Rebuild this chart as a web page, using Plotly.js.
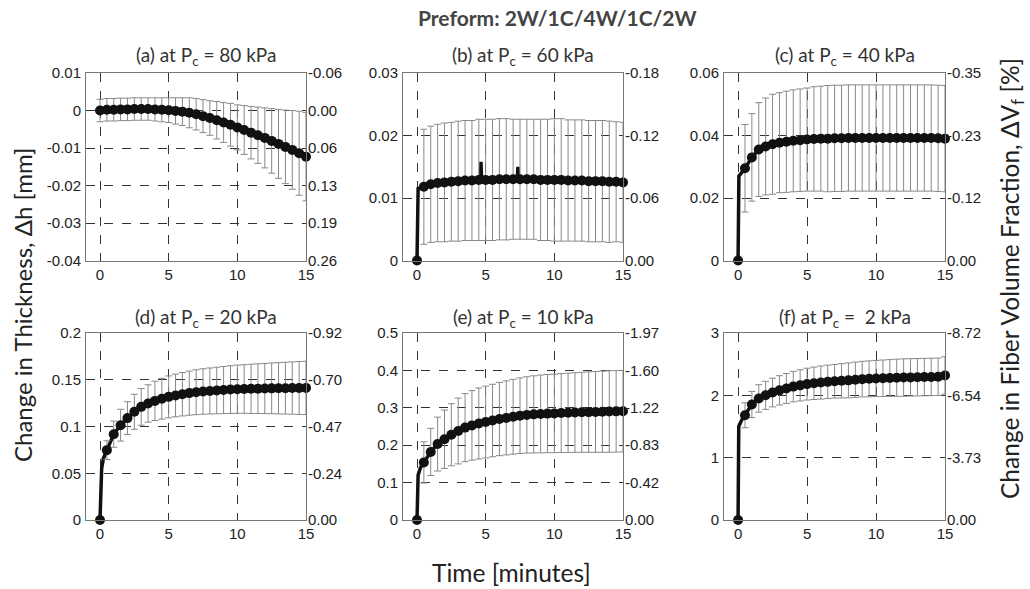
<!DOCTYPE html>
<html><head><meta charset="utf-8">
<script src="https://cdn.plot.ly/plotly-3.0.1.min.js"></script>
<style>html,body{margin:0;padding:0;background:#fff}#chart{width:1030px;height:589px}</style>
</head><body><div id="chart"></div>
<script>
// ---- Data ----
const times = [0,0.5,1,1.5,2,2.5,3,3.5,4,4.5,5,5.5,6,6.5,7,7.5,8,8.5,9,9.5,10,10.5,11,11.5,12,12.5,13,13.5,14,14.5,15];

const panelTitles = ['(a) at P<sub>c</sub> = 80 kPa','(b) at P<sub>c</sub> = 60 kPa','(c) at P<sub>c</sub> = 40 kPa',
                     '(d) at P<sub>c</sub> = 20 kPa','(e) at P<sub>c</sub> = 10 kPa','(f) at P<sub>c</sub> =  2 kPa'];

// (a) 80 kPa
const aY   = [0,0.0002,0.0002,0.0003,0.0003,0.0004,0.0004,0.0004,0.0003,0.0002,0.0001,-0.0001,-0.0003,-0.0006,-0.001,-0.0015,-0.002,-0.0026,-0.0032,-0.0038,-0.0045,-0.0052,-0.0059,-0.0066,-0.0073,-0.0081,-0.0089,-0.0097,-0.0105,-0.0114,-0.0123];
const aErr = [0.003,0.003,0.003,0.003,0.003,0.003,0.003,0.003,0.0031,0.0032,0.0033,0.0035,0.0037,0.004,0.0042,0.0044,0.0046,0.005,0.0053,0.0057,0.006,0.0065,0.007,0.0075,0.008,0.0086,0.0092,0.0098,0.0105,0.0112,0.0118];
const aExtraT = [], aExtraY = [];

// (b) 60 kPa
const bY   = [0,0.0118,0.0122,0.0124,0.0125,0.0126,0.0127,0.0128,0.0128,0.0129,0.0129,0.0129,0.013,0.013,0.013,0.013,0.013,0.013,0.0129,0.0129,0.0129,0.0129,0.0128,0.0128,0.0128,0.0127,0.0127,0.0127,0.0126,0.0126,0.0125];
const bErr = [0,0.0092,0.0093,0.0094,0.0095,0.0095,0.0096,0.0096,0.0096,0.0097,0.0097,0.0097,0.0097,0.0097,0.0096,0.0096,0.0096,0.0096,0.0097,0.0097,0.0098,0.0098,0.0097,0.0097,0.0097,0.0097,0.0097,0.0097,0.0097,0.0096,0.0096];
const bExtraT = [0.03,0.08,4.62,4.66,4.70,7.30,7.35,7.40];
const bExtraY = [0.005,0.0115,0.0129,0.0158,0.0129,0.013,0.015,0.013];

// (c) 40 kPa
const cY   = [0,0.0295,0.033,0.0355,0.0365,0.0372,0.0377,0.038,0.0383,0.0385,0.0387,0.0389,0.039,0.039,0.0391,0.0391,0.0392,0.0392,0.0392,0.0392,0.0392,0.0392,0.0392,0.0392,0.0392,0.0392,0.0392,0.0392,0.0392,0.0391,0.039];
const cErr = [0,0.014,0.014,0.015,0.0155,0.016,0.016,0.0162,0.0163,0.0164,0.0165,0.0167,0.0168,0.017,0.017,0.017,0.017,0.017,0.017,0.017,0.017,0.017,0.017,0.017,0.017,0.017,0.017,0.017,0.017,0.017,0.017];
const cExtraT = [0.03,0.06];
const cExtraY = [0.015,0.027];

// (d) 20 kPa
const dY   = [0,0.0747,0.0918,0.1014,0.109,0.1157,0.121,0.1246,0.1274,0.1297,0.1317,0.1332,0.1345,0.1357,0.1367,0.1374,0.138,0.1385,0.139,0.1395,0.1399,0.1401,0.1403,0.1405,0.1406,0.1408,0.1409,0.141,0.1411,0.1412,0.1413];
const dErr = [0,0.01,0.014,0.017,0.0175,0.0187,0.0196,0.02,0.021,0.0218,0.0224,0.0228,0.0232,0.0236,0.024,0.0243,0.0246,0.0249,0.0252,0.0255,0.0258,0.026,0.0263,0.0266,0.0268,0.0271,0.0274,0.0277,0.028,0.0283,0.0285];
const dExtraT = [0.05,0.12,0.25];
const dExtraY = [0.03,0.055,0.066];

// (e) 10 kPa
const eY   = [0,0.154,0.182,0.203,0.216,0.228,0.238,0.247,0.253,0.258,0.262,0.266,0.27,0.273,0.276,0.279,0.281,0.2825,0.2836,0.2845,0.285,0.286,0.2866,0.2873,0.288,0.2885,0.289,0.2895,0.29,0.2905,0.291];
const eErr = [0,0.055,0.063,0.072,0.078,0.083,0.088,0.091,0.093,0.095,0.096,0.097,0.098,0.099,0.1,0.101,0.102,0.103,0.104,0.1045,0.105,0.1055,0.106,0.1065,0.107,0.1075,0.108,0.1085,0.109,0.109,0.109];
const eExtraT = [0.03,0.08,0.25];
const eExtraY = [0.07,0.12,0.14];

// (f) 2 kPa
const fY   = [0,1.68,1.853,1.95,2.0,2.045,2.08,2.11,2.14,2.16,2.18,2.193,2.205,2.216,2.226,2.233,2.24,2.25,2.26,2.265,2.27,2.274,2.278,2.282,2.285,2.288,2.29,2.293,2.295,2.298,2.32];
const fErr = [0,0.2,0.21,0.22,0.225,0.23,0.235,0.24,0.245,0.25,0.255,0.26,0.265,0.268,0.27,0.275,0.28,0.283,0.285,0.288,0.29,0.293,0.295,0.298,0.3,0.3,0.3,0.3,0.3,0.3,0.3];
const fExtraT = [0.02,0.05,0.25];
const fExtraY = [0.8,1.5,1.6];

// Axis ticks (left: thickness change, right: fibre volume fraction change)
const leftTicks = [
  [0.01,0,-0.01,-0.02,-0.03,-0.04],
  [0,0.01,0.02,0.03],
  [0,0.02,0.04,0.06],
  [0,0.05,0.1,0.15,0.2],
  [0,0.1,0.2,0.3,0.4,0.5],
  [0,1,2,3]
];
const leftTickText = [
  ['0.01','0','-0.01','-0.02','-0.03','-0.04'],
  ['0','0.01','0.02','0.03'],
  ['0','0.02','0.04','0.06'],
  ['0','0.05','0.1','0.15','0.2'],
  ['0','0.1','0.2','0.3','0.4','0.5'],
  ['0','1','2','3']
];
const rightTickText = [
  ['-0.06','0.00','0.06','0.13','0.19','0.26'],
  ['0.00','-0.06','-0.12','-0.18'],
  ['0.00','-0.12','-0.23','-0.35'],
  ['0.00','-0.24','-0.47','-0.70','-0.92'],
  ['0.00','-0.42','-0.83','-1.22','-1.60','-1.97'],
  ['0.00','-3.73','-6.54','-8.72']
];
const xTicks = [0,5,10,15];

// ---- Build ----
const series = [
  [aY,aErr,aExtraT,aExtraY],[bY,bErr,bExtraT,bExtraY],[cY,cErr,cExtraT,cExtraY],
  [dY,dErr,dExtraT,dExtraY],[eY,eErr,eExtraT,eExtraY],[fY,fErr,fExtraT,fExtraY]
];

const W = 1030, H = 589;
const colsPx = [[86,306],[403,623],[724,945]];
const rowsPx = [[73,260.5],[333,520]];

const traces = [];
const layout = {
  width: W, height: H,
  margin: {l:0,r:0,t:0,b:0},
  paper_bgcolor: '#fff', plot_bgcolor: '#fff',
  showlegend: false,
  font: {family: 'Liberation Sans, Arial, sans-serif', color: '#222', size: 15},
  annotations: []
};

const tickFont = {family: 'Liberation Sans, Arial, sans-serif', size: 15, color: '#222'};
const titleFont = {family: 'Lato, Open Sans, sans-serif', size: 19, color: '#333'};

series.forEach((s, i) => {
  const [y, err, exT, exY] = s;
  const n = i + 1;
  const xa = n === 1 ? 'x' : 'x' + n;
  const ya = n === 1 ? 'y' : 'y' + n;
  const pts = times.map((t, k) => [t, y[k]]).concat(exT.map((t, k) => [t, exY[k]]));
  pts.sort((p, q) => p[0] - q[0]);
  traces.push({
    type: 'scatter', mode: 'lines', xaxis: xa, yaxis: ya,
    x: pts.map(p => p[0]), y: pts.map(p => p[1]),
    line: {color: '#111', width: 3.5}, cliponaxis: false, hoverinfo: 'skip'
  });
  traces.push({
    type: 'scatter', mode: 'markers', xaxis: xa, yaxis: ya,
    x: times, y: y,
    marker: {color: '#111', size: 10, line: {width: 0}},
    error_y: {type: 'data', array: err, visible: true, color: '#888', thickness: 1, width: 3.5},
    cliponaxis: false
  });
  // empty trace to register the right-hand (fibre volume fraction) axis
  traces.push({type: 'scatter', mode: 'markers', xaxis: xa, yaxis: 'y' + (n + 6), x: [], y: [], hoverinfo: 'skip'});

  const col = i % 3, row = Math.floor(i / 3);
  const xd = [colsPx[col][0] / W, colsPx[col][1] / W];
  const yd = [1 - rowsPx[row][1] / H, 1 - rowsPx[row][0] / H];
  const lt = leftTicks[i];
  const yr = [Math.min(...lt), Math.max(...lt)];
  const xName = n === 1 ? 'xaxis' : 'xaxis' + n;
  const yName = n === 1 ? 'yaxis' : 'yaxis' + n;
  layout[xName] = {
    domain: xd, anchor: ya, range: [-1.02, 15],
    tickmode: 'array', tickvals: xTicks, ticktext: xTicks.map(String),
    showgrid: true, gridcolor: '#333', griddash: 'dash', gridwidth: 1,
    showline: true, mirror: true, linecolor: '#777', linewidth: 1,
    zeroline: false, ticks: '', tickfont: tickFont, ticklabelstandoff: 0
  };
  layout[yName] = {
    domain: yd, anchor: xa, range: yr,
    tickmode: 'array', tickvals: lt, ticktext: leftTickText[i],
    showgrid: true, gridcolor: '#333', griddash: 'dash', gridwidth: 1,
    showline: true, mirror: true, linecolor: '#777', linewidth: 1,
    zeroline: false, ticks: '', tickfont: tickFont, ticklabelstandoff: 1
  };
  layout['yaxis' + (n + 6)] = {
    overlaying: ya, side: 'right', anchor: xa, range: yr,
    tickmode: 'array', tickvals: lt, ticktext: rightTickText[i],
    showgrid: false, showline: false, zeroline: false, ticks: '', tickfont: tickFont, ticklabelstandoff: 1
  };
  layout.annotations.push({
    text: panelTitles[i], xref: 'paper', yref: 'paper',
    x: ((colsPx[col][0] + colsPx[col][1]) / 2 + 10) / W,
    y: 1 - (row === 0 ? 56 : 318) / H,
    xanchor: 'center', yanchor: 'middle', showarrow: false, font: titleFont
  });
});

const axTitleFont = {family: 'Lato, Open Sans, sans-serif', size: 24, color: '#222'};
layout.annotations.push(
  {text: '<b>Preform: 2W/1C/4W/1C/2W</b>', xref: 'paper', yref: 'paper', x: 557 / W, y: 1 - 18 / H,
   xanchor: 'center', yanchor: 'middle', showarrow: false,
   font: {family: 'Lato, Open Sans, sans-serif', size: 21, color: '#444'}},
  {text: 'Change in Thickness, Δh [mm]', xref: 'paper', yref: 'paper', x: 22 / W, y: 1 - 305 / H,
   xanchor: 'center', yanchor: 'middle', textangle: -90, showarrow: false, font: axTitleFont},
  {text: 'Change in Fiber Volume Fraction, ΔV<sub>f</sub> [%]', xref: 'paper', yref: 'paper', x: 1012 / W, y: 1 - 279 / H,
   xanchor: 'center', yanchor: 'middle', textangle: -90, showarrow: false,
   font: {family: 'Lato, Open Sans, sans-serif', size: 24.5, color: '#222'}},
  {text: 'Time [minutes]', xref: 'paper', yref: 'paper', x: 511 / W, y: 0,
   xanchor: 'center', yanchor: 'bottom', showarrow: false,
   font: {family: 'Lato, Open Sans, sans-serif', size: 24.5, color: '#222'}}
);

Plotly.newPlot('chart', traces, layout, {staticPlot: true, displayModeBar: false});
</script>
</body></html>
